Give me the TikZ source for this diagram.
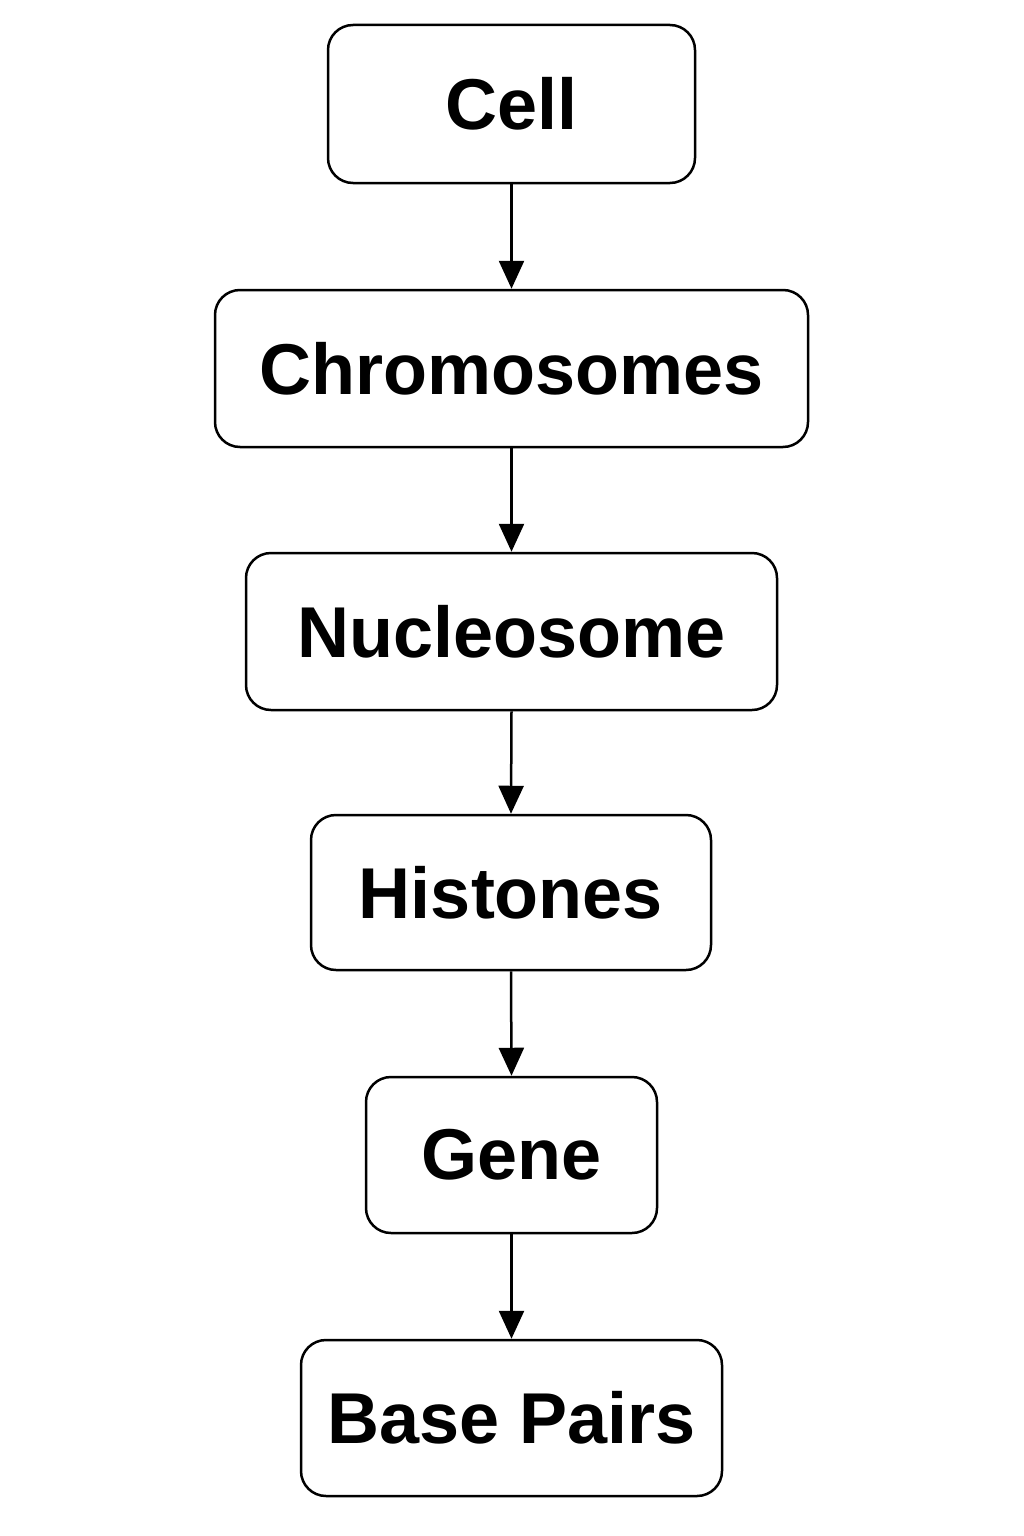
\documentclass[tikz,border=0pt]{standalone}
\usepackage{fontspec}
\setmainfont{Liberation Sans}
\usetikzlibrary{arrows.meta}
\begin{document}
\begin{tikzpicture}[x=1pt,y=1pt,
  levelbox/.style={draw=black, line width=2.5pt, rounded corners=25pt, inner sep=0pt,
    font=\fontsize{72}{80}\selectfont\bfseries, text=black, anchor=center},
  flow/.style={draw=black, line width=2.5pt, -{Triangle[width=25pt,length=28pt]}}]
\useasboundingbox (0,0) rectangle (1024,-1536);
\node[levelbox, minimum width=367pt, minimum height=158pt] (cell) at (511.5,-104) {Cell};
\node[levelbox, minimum width=593pt, minimum height=157pt] (chrom) at (511.5,-368.5) {Chromosomes};
\node[levelbox, minimum width=531pt, minimum height=157pt] (nucl) at (511.5,-631.5) {Nucleosome};
\node[levelbox, minimum width=400pt, minimum height=155pt] (hist) at (511,-892.5) {Histones};
\node[levelbox, minimum width=291pt, minimum height=156pt] (gene) at (511.5,-1155) {Gene};
\node[levelbox, minimum width=421pt, minimum height=156pt] (base) at (511.5,-1418) {Base Pairs};
\draw[flow] (cell.south) -- (chrom.north);
\draw[flow] (chrom.south) -- (nucl.north);
\draw[flow] (nucl.south) -- (hist.north);
\draw[flow] (hist.south) -- (gene.north);
\draw[flow] (gene.south) -- (base.north);
\end{tikzpicture}
\end{document}
